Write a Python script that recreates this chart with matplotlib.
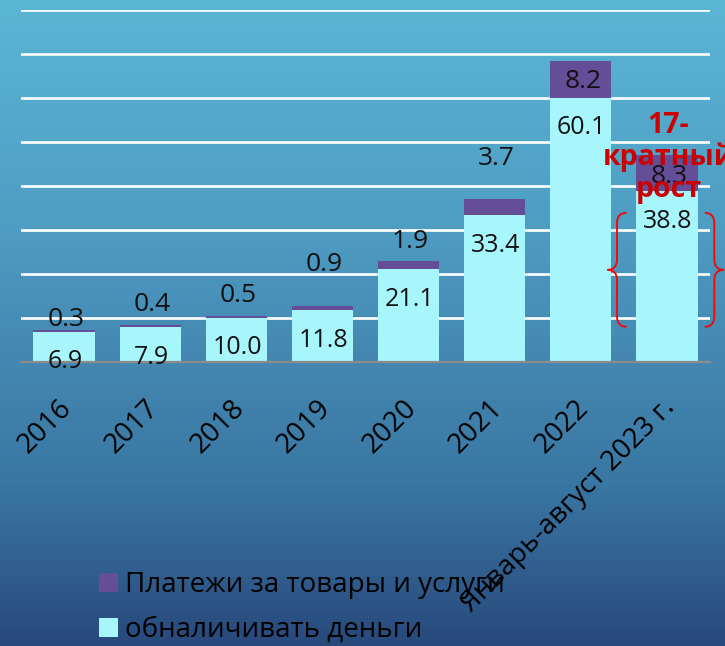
import numpy as np
import matplotlib
matplotlib.use("Agg")
import matplotlib.pyplot as plt
from matplotlib.path import Path
from matplotlib.patches import PathPatch, Patch
from matplotlib.colors import LinearSegmentedColormap
import matplotlib.transforms as mtransforms

plt.rcParams['font.family'] = ['Open Sans', 'DejaVu Sans']

# ---------------- data ----------------
categories = ["2016", "2017", "2018", "2019", "2020", "2021", "2022",
              "Январь-август 2023 г."]
cash_out = [6.9, 7.9, 10.0, 11.8, 21.1, 33.4, 60.1, 38.8]
payments = [0.3, 0.4, 0.5, 0.9, 1.9, 3.7, 8.2, 8.3]
series_names = ["Платежи за товары и услуги", "обналичивать деньги"]
annotation_text = "17-\nкратный\nрост"

# label offsets (pixels) for the top-series labels relative to total height
pay_label_dy = [11, 21, 20, 42, 19, 40, -20, -22]

# ---------------- style ----------------
W, H, DPI = 725, 646, 100
c_cash = "#A6F6FC"
c_pay = "#654E98"
c_red = "#CC0000"

fig = plt.figure(figsize=(W / DPI, H / DPI), dpi=DPI)

# gradient background
bg = fig.add_axes([0, 0, 1, 1], zorder=-10)
cmap = LinearSegmentedColormap.from_list(
    "bg", [(0.0, "#5BB6D4"), (0.35, "#4E9DC3"), (0.55, "#4488B2"),
           (0.75, "#3A77A3"), (1.0, "#28497C")])
grad = np.linspace(0, 1, 400).reshape(-1, 1)
bg.imshow(grad, aspect="auto", cmap=cmap, extent=[0, 1, 0, 1], origin="upper")
bg.axis("off")

ax_left, ax_right = 21 / W, 710 / W
ax_bottom = (H - 362) / H
ax_top = (H - 10) / H
ax = fig.add_axes([ax_left, ax_bottom, ax_right - ax_left, ax_top - ax_bottom])
ax.set_facecolor("none")

x = np.arange(len(categories))
bw = 0.71
ax.bar(x, cash_out, width=bw, color=c_cash, zorder=3, label=series_names[1])
ax.bar(x, payments, width=bw, bottom=cash_out, color=c_pay, zorder=3,
       label=series_names[0])

ax.set_xlim(-0.5, len(categories) - 0.5)
ax.set_ylim(0, 80)
ax.set_yticks(np.arange(10, 81, 10))
ax.yaxis.grid(True, color="white", linewidth=1.9, zorder=1)
ax.tick_params(axis="y", length=0, labelleft=False)
for s in ["top", "left", "right"]:
    ax.spines[s].set_visible(False)
ax.spines["bottom"].set_color("#8C8C8C")
ax.spines["bottom"].set_linewidth(1.6)
ax.spines["bottom"].set_zorder(4)

ax.set_xticks(x)
ax.set_xticklabels(categories, rotation=45, ha="right", va="top",
                   rotation_mode="anchor", fontsize=20, color="black")
ax.tick_params(axis="x", length=0, pad=23)
off = mtransforms.ScaledTranslation(-6 / DPI, 0, fig.dpi_scale_trans)
for lab in ax.get_xticklabels():
    lab.set_transform(lab.get_transform() + off)

# value labels
for xi, c, p, dy in zip(x, cash_out, payments, pay_label_dy):
    ax.annotate(f"{c:.1f}", (xi, c), xytext=(1, -30), textcoords="offset pixels",
                ha="center", va="center", fontsize=18, color="#111111", zorder=5)
    ax.annotate(f"{p:.1f}", (xi, c + p), xytext=(2, dy), textcoords="offset pixels",
                ha="center", va="center", fontsize=19, color="#111111", zorder=5)

# red annotation
ax.text(7.02, 46.5, annotation_text, ha="center", va="center", multialignment="center",
        fontsize=20.5, fontweight="bold", color=c_red, linespacing=1.12, zorder=8,
        clip_on=False)


def brace(ax, xb, y0, y1, w, r, **kw):
    ym = (y0 + y1) / 2
    verts = [(xb + w, y1), (xb, y1), (xb, y1 - r),
             (xb, ym + r), (xb, ym), (xb - w, ym),
             (xb, ym), (xb, ym - r),
             (xb, y0 + r), (xb, y0), (xb + w, y0)]
    codes = [Path.MOVETO, Path.CURVE3, Path.CURVE3,
             Path.LINETO, Path.CURVE3, Path.CURVE3,
             Path.CURVE3, Path.CURVE3,
             Path.LINETO, Path.CURVE3, Path.CURVE3]
    ax.add_patch(PathPatch(Path(verts, codes), fill=False, clip_on=False, **kw))


brace(ax, 7 - 0.58, 8.0, 33.9, 0.11, 2.3, edgecolor="#FF0000", linewidth=1.3, zorder=7)
brace(ax, 7 + 0.55, 8.0, 33.9, -0.11, 2.3, edgecolor="#FF0000", linewidth=1.3, zorder=7)

# legend
handles = [Patch(facecolor=c_pay), Patch(facecolor=c_cash)]
fig.legend(handles, series_names, loc="upper left",
           bbox_to_anchor=(99 / W, 1 - 571 / H), frameon=False, fontsize=20,
           handlelength=0.7, handleheight=0.7, handletextpad=0.25,
           labelspacing=0.62, borderpad=0, borderaxespad=0)

fig.savefig("out.png", dpi=DPI)
